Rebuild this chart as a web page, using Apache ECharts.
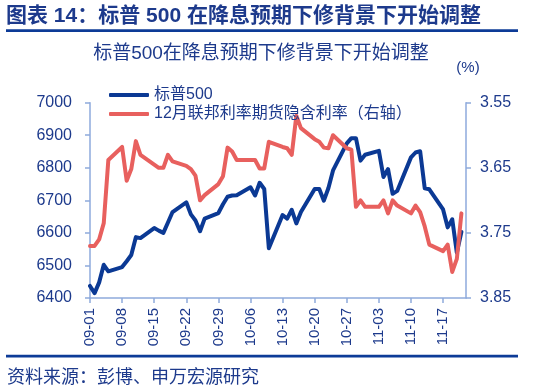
<!DOCTYPE html>
<html>
<head>
<meta charset="utf-8">
<script src="https://cdn.jsdelivr.net/npm/echarts@6/dist/echarts.min.js"></script>
<style>
html,body{margin:0;padding:0;background:#fff;}
#c{width:548px;height:391px;}
</style>
</head>
<body>
<div id="c"></div>
<script>
// Trading dates (MM-DD)
var tradeDates = [
 '09-01','09-02','09-03','09-04','09-05','09-08','09-09','09-10','09-11','09-12',
 '09-15','09-16','09-17','09-18','09-19','09-22','09-23','09-24','09-25','09-26',
 '09-29','09-30','10-01','10-02','10-03','10-06','10-07','10-08','10-09','10-10',
 '10-13','10-14','10-15','10-16','10-17','10-20','10-21','10-22','10-23','10-24',
 '10-27','10-28','10-29','10-30','10-31','11-03','11-04','11-05','11-06','11-07',
 '11-10','11-11','11-12','11-13','11-14','11-17','11-18','11-19','11-20','11-21'
];
// S&P 500 (left axis)
var spx = [
 6437,6415,6448,6502,6482,6495,6513,6532,6587,6584,
 6615,6607,6600,6632,6664,6694,6657,6638,6605,6644,
 6661,6688,6711,6715,6716,6740,6715,6754,6735,6553,
 6655,6644,6671,6629,6664,6735,6735,6699,6738,6792,
 6875,6891,6891,6822,6840,6852,6772,6796,6720,6729,
 6832,6847,6851,6737,6734,6672,6617,6642,6539,6603
];
// Dec fed funds futures implied rate (right axis, inverted)
var ffRate = [
 3.770,3.770,3.760,3.735,3.638,3.618,3.670,3.652,3.609,3.630,
 3.645,3.650,3.650,3.630,3.640,3.647,3.652,3.662,3.700,3.692,
 3.675,3.663,3.619,3.625,3.638,3.638,3.638,3.651,3.651,3.610,
 3.618,3.620,3.630,3.570,3.589,3.606,3.610,3.619,3.620,3.600,
 3.620,3.622,3.710,3.700,3.710,3.710,3.700,3.720,3.700,3.708,
 3.720,3.708,3.718,3.740,3.768,3.778,3.768,3.810,3.790,3.720
];
var leftTicks = {min: 6400, max: 7000, interval: 100};
var rightTicks = {min: 3.55, max: 3.85, interval: 0.1};
var seriesNames = ['标普500', '12月联邦利率期货隐含利率（右轴）'];
var axisMonths = [['09', 30], ['10', 31], ['11', 22]];

// Build calendar-day category axis (date axis equivalent)
var calDays = [];
axisMonths.forEach(function (m) {
  for (var d = 1; d <= m[1]; d++) calDays.push(m[0] + '-' + (d < 10 ? '0' + d : '' + d));
});
function toCal(vals) {
  var map = {};
  tradeDates.forEach(function (t, i) { map[t] = vals[i]; });
  return calDays.map(function (c) { return map.hasOwnProperty(c) ? map[c] : null; });
}

var navy = '#1d3a8c';
var axisBlue = '#8eaadc';
var FONT = '"Liberation Sans", Arial, "Noto Sans CJK SC", sans-serif';

var chart = echarts.init(document.getElementById('c'), null, {renderer: 'canvas'});
chart.setOption({
  animation: false,
  textStyle: {fontFamily: FONT},
  grid: {left: 90, right: 82, top: 102.7, bottom: 93, containLabel: false},
  legend: {
    orient: 'vertical', left: 104, top: 82,
    itemWidth: 40, itemHeight: 4, itemGap: 3,
    icon: 'roundRect',
    textStyle: {fontSize: 16, lineHeight: 16, color: navy, fontFamily: FONT},
    data: seriesNames
  },
  xAxis: {
    type: 'category', data: calDays, boundaryGap: false,
    axisLine: {lineStyle: {color: axisBlue, width: 1.5}},
    axisTick: {show: true, interval: 6, length: 5, lineStyle: {color: axisBlue, width: 1.5}},
    axisLabel: {interval: 6, rotate: 90, fontSize: 15, color: navy, margin: 10, fontFamily: FONT}
  },
  yAxis: [{
    type: 'value', min: leftTicks.min, max: leftTicks.max, interval: leftTicks.interval,
    axisLine: {show: true, lineStyle: {color: axisBlue, width: 1.5}},
    axisTick: {show: true, length: 5, lineStyle: {color: axisBlue, width: 1.5}},
    axisLabel: {fontSize: 16, color: navy, margin: 18, fontFamily: FONT,
      formatter: function (v) { return String(Math.round(v)); }},
    splitLine: {show: false}
  }, {
    type: 'value', inverse: true, min: rightTicks.min, max: rightTicks.max, interval: rightTicks.interval,
    position: 'right',
    axisLine: {show: true, lineStyle: {color: axisBlue, width: 1.5}},
    axisTick: {show: true, length: 5, lineStyle: {color: axisBlue, width: 1.5}},
    axisLabel: {fontSize: 16, color: navy, margin: 14, fontFamily: FONT,
      formatter: function (v) { return v.toFixed(2); }},
    splitLine: {show: false}
  }],
  series: [{
    name: seriesNames[0], type: 'line', yAxisIndex: 0,
    data: toCal(spx), connectNulls: true, showSymbol: false, symbol: 'none',
    lineStyle: {color: '#0b3994', width: 4, join: 'round', cap: 'round'},
    itemStyle: {color: '#0b3994'}
  }, {
    name: seriesNames[1], type: 'line', yAxisIndex: 1,
    data: toCal(ffRate), connectNulls: true, showSymbol: false, symbol: 'none',
    lineStyle: {color: '#e8605e', width: 4, join: 'round', cap: 'round'},
    itemStyle: {color: '#e8605e'}
  }],
  graphic: [
    {type: 'text', left: 6, top: 6, style: {text: '图表 14：标普 500 在降息预期下修背景下开始调整', font: 'bold 21px ' + FONT, fill: '#1d3a8c'}},
    {type: 'rect', shape: {x: 6, y: 29.3, width: 512, height: 2.6}, style: {fill: '#0d3b97'}},
    {type: 'text', x: 261, y: 54, style: {text: '标普500在降息预期下修背景下开始调整', font: '19px ' + FONT, fill: navy, textAlign: 'center', textVerticalAlign: 'middle'}},
    {type: 'text', x: 468, y: 68, style: {text: '(%)', font: '15px ' + FONT, fill: navy, textAlign: 'center', textVerticalAlign: 'middle'}},
    {type: 'rect', shape: {x: 6, y: 354.8, width: 512, height: 2.6}, style: {fill: '#0d3b97'}},
    {type: 'text', x: 7, y: 378, style: {text: '资料来源：彭博、申万宏源研究', font: '18px ' + FONT, fill: navy, textVerticalAlign: 'middle'}}
  ]
});
</script>
</body>
</html>
